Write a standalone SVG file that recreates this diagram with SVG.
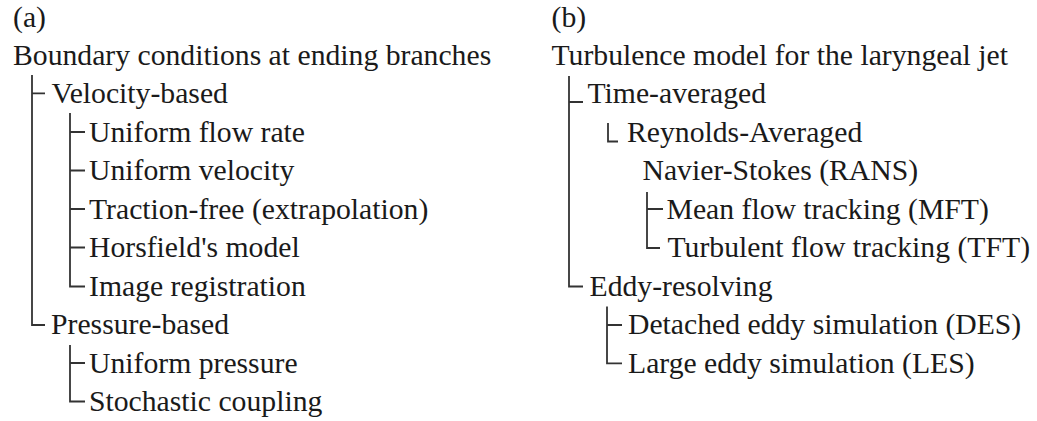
<svg xmlns="http://www.w3.org/2000/svg" width="1037" height="421" viewBox="0 0 1037 421">
<style>
text{font-family:"Liberation Serif","Times New Roman",serif;font-size:29.7px;fill:#1a1a1a}
.c{fill:none;stroke:#333;stroke-width:1.8;stroke-linecap:butt;stroke-linejoin:miter}
</style>
<rect width="1037" height="421" fill="#fff"/>
<g id="connectors">
<path class="c" d="M32 75V325H45M32 93.3H45"/>
<path class="c" d="M70 113V286.5H85M70 132H85M70 170.5H85M70 209H85M70 247.5H85"/>
<path class="c" d="M70 345V401.5H85M70 363H85"/>
<path class="c" d="M569 76V286.5H583M569 102H583"/>
<path class="c" d="M608 123V141.5H618"/>
<path class="c" d="M647 192V248H660M647 209H663"/>
<path class="c" d="M607 306.5V363.3H622M607 325H622"/>
</g>
<g id="panel-a">
<g id="label-a"><text x="13" y="26.5">(a)</text></g>
<g id="root-a"><text x="13" y="64.8">Boundary conditions at ending branches</text></g>
<g id="velocity-based"><text x="51.5" y="103.3">Velocity-based</text></g>
<g id="uniform-flow-rate"><text x="89" y="141.8">Uniform flow rate</text></g>
<g id="uniform-velocity"><text x="89" y="180.3">Uniform velocity</text></g>
<g id="traction-free"><text x="89" y="218.8">Traction-free (extrapolation)</text></g>
<g id="horsfield"><text x="89" y="257.3">Horsfield's model</text></g>
<g id="image-registration"><text x="89" y="295.8">Image registration</text></g>
<g id="pressure-based"><text x="51" y="334.3">Pressure-based</text></g>
<g id="uniform-pressure"><text x="89" y="372.8">Uniform pressure</text></g>
<g id="stochastic-coupling"><text x="89" y="411.3">Stochastic coupling</text></g>
</g>
<g id="panel-b">
<g id="label-b"><text x="551.5" y="26.5">(b)</text></g>
<g id="root-b"><text x="551.5" y="64.8">Turbulence model for the laryngeal jet</text></g>
<g id="time-averaged"><text x="587.5" y="103.3">Time-averaged</text></g>
<g id="rans"><text x="627" y="141.8">Reynolds-Averaged</text><text x="642.5" y="180.3">Navier-Stokes (RANS)</text></g>
<g id="mft"><text x="666.5" y="218.8">Mean flow tracking (MFT)</text></g>
<g id="tft"><text x="667.5" y="257.3">Turbulent flow tracking (TFT)</text></g>
<g id="eddy-resolving"><text x="589.5" y="295.8">Eddy-resolving</text></g>
<g id="des"><text x="628" y="334.3">Detached eddy simulation (DES)</text></g>
<g id="les"><text x="628" y="372.8">Large eddy simulation (LES)</text></g>
</g>
</svg>
